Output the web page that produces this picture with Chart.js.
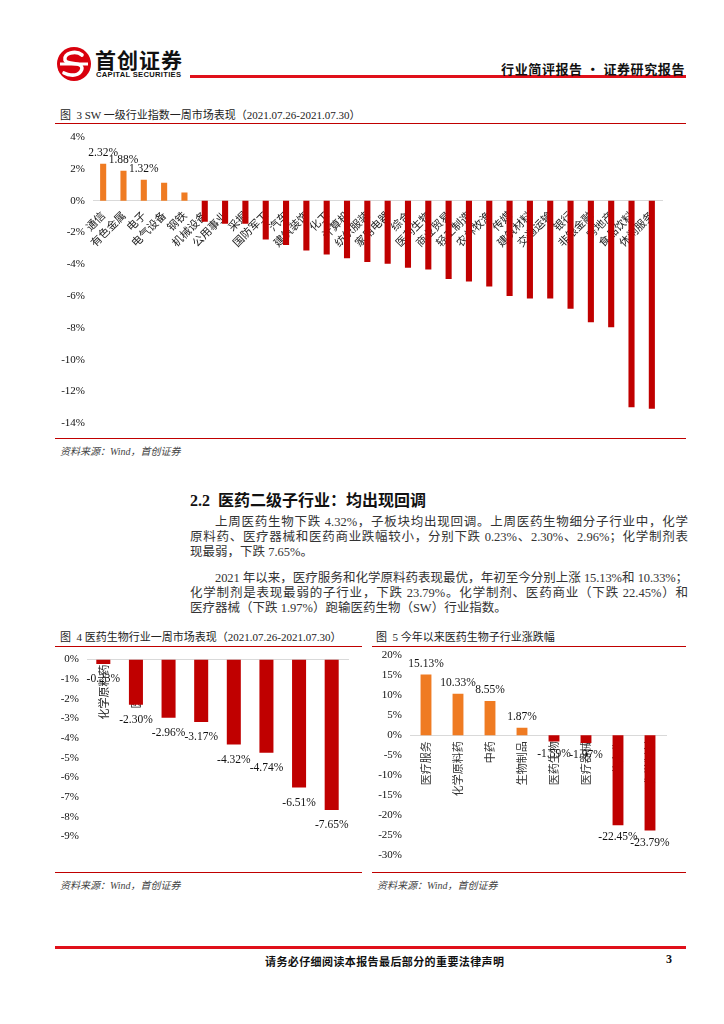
<!DOCTYPE html>
<html>
<head>
<meta charset="utf-8">
<script src="https://cdn.jsdelivr.net/npm/chart.js@4.4.1/dist/chart.umd.min.js"></script>
<style>
  html, body { margin: 0; padding: 0; background: #fff; }
  #page { position: relative; width: 724px; height: 1024px; overflow: hidden;
          font-family: "Liberation Serif", "Noto Sans CJK SC", serif; color: #222; }
  .abs { position: absolute; white-space: nowrap; }
  .rule { position: absolute; background: #c00000; height: 1px; }
  .figtitle { position: absolute; font-size: 11px; color: #222; white-space: nowrap; line-height: 14px; }
  .source { position: absolute; font-size: 10px; color: #444; font-style: italic; white-space: nowrap; }
  .line { position: absolute; font-size: 12.5px; color: #333; line-height: 16px; white-space: nowrap;
          text-align: justify; text-align-last: justify; }
  .line.last { text-align-last: left; }
  canvas { position: absolute; }
</style>
</head>
<body>
<div id="page">
  <!-- header -->
  <svg class="abs" style="left:56px;top:46px" width="36" height="36" viewBox="0 0 36 36">
    <circle cx="18" cy="18" r="17" fill="#d9000d"/>
    <path d="M26 9 C20 4 7 7 9 14 C10 18 20 17 24 19 C29 22 24 30 15 29 C12 29 10 28 8 27"
          fill="none" stroke="#fff" stroke-width="3.6" stroke-linecap="round"/>
    <rect x="4" y="16.5" width="28" height="3" fill="#fff"/>
  </svg>
  <div class="abs" style="left:95px;top:47px;font:700 21px 'Noto Sans CJK SC';letter-spacing:1px;color:#111;line-height:24px">首创证券</div>
  <div class="abs" style="left:96px;top:70px;font:700 7.6px 'Liberation Sans';color:#111;letter-spacing:0.3px">CAPITAL SECURITIES</div>
  <div class="rule" style="left:190px;top:75px;width:496px;height:2.5px;background:#e0101a"></div>
  <div class="abs" style="right:39px;top:59px;font:700 13px 'Noto Sans CJK SC';color:#111;letter-spacing:0.6px">行业简评报告 · 证券研究报告</div>

  <!-- figure 3 -->
  <div class="figtitle" style="left:60px;top:108px">图&nbsp; 3 SW 一级行业指数一周市场表现（2021.07.26-2021.07.30）</div>
  <div class="rule" style="left:55px;top:123px;width:631px"></div>
  <canvas id="swChart" width="631" height="318" style="left:55px;top:120px"></canvas>
  <div class="rule" style="left:55px;top:438px;width:631px"></div>
  <div class="source" style="left:60px;top:443px">资料来源：Wind，首创证券</div>

  <!-- section text -->
  <div class="abs" style="left:190px;top:487px;font:700 16px 'Liberation Serif','Noto Sans CJK SC';color:#111">2.2&nbsp; 医药二级子行业：均出现回调</div>
  <div class="line" style="left:215px;top:514px;width:473px">上周医药生物下跌 4.32%，子板块均出现回调。上周医药生物细分子行业中，化学</div>
  <div class="line" style="left:190px;top:529px;width:498px">原料药、医疗器械和医药商业跌幅较小，分别下跌 0.23%、2.30%、2.96%；化学制剂表</div>
  <div class="line last" style="left:190px;top:544px;width:498px">现最弱，下跌 7.65%。</div>
  <div class="line" style="left:215px;top:570px;width:473px">2021 年以来，医疗服务和化学原料药表现最优，年初至今分别上涨 15.13%和 10.33%；</div>
  <div class="line" style="left:190px;top:585px;width:498px">化学制剂是表现最弱的子行业，下跌 23.79%。化学制剂、医药商业（下跌 22.45%）和</div>
  <div class="line last" style="left:190px;top:600px;width:498px">医疗器械（下跌 1.97%）跑输医药生物（SW）行业指数。</div>

  <!-- figure 4 -->
  <div class="figtitle" style="left:60px;top:630px">图&nbsp; 4 医药生物行业一周市场表现（2021.07.26-2021.07.30）</div>
  <div class="rule" style="left:55px;top:646px;width:307px"></div>
  <canvas id="weekChart" width="307" height="225" style="left:55px;top:645px"></canvas>
  <div class="rule" style="left:55px;top:872px;width:307px"></div>
  <div class="source" style="left:60px;top:877px">资料来源：Wind，首创证券</div>

  <!-- figure 5 -->
  <div class="figtitle" style="left:376px;top:630px">图&nbsp; 5 今年以来医药生物子行业涨跌幅</div>
  <div class="rule" style="left:372px;top:646px;width:314px"></div>
  <canvas id="ytdChart" width="314" height="230" style="left:372px;top:640px"></canvas>
  <div class="rule" style="left:372px;top:872px;width:314px"></div>
  <div class="source" style="left:377px;top:877px">资料来源：Wind，首创证券</div>

  <!-- footer -->
  <div class="rule" style="left:55px;top:946px;width:631px;height:2.5px;background:#e0101a"></div>
  <div class="abs" style="left:265px;top:953px;font:700 11px 'Noto Sans CJK SC';color:#111;letter-spacing:0.4px">请务必仔细阅读本报告最后部分的重要法律声明</div>
  <div class="abs" style="left:666px;top:952px;font:700 12px 'Liberation Serif';color:#111">3</div>
</div>

<script>
// 图3 SW 一级行业指数一周表现 (%)
const swCategories = ['通信', '有色金属', '电子', '电气设备', '钢铁', '机械设备', '公用事业', '采掘', '国防军工', '汽车',
  '建筑装饰', '化工', '计算机', '纺织服装', '家用电器', '综合', '医药生物', '商业贸易', '轻工制造', '农林牧渔',
  '传媒', '建筑材料', '交通运输', '银行', '非银金融', '房地产', '食品饮料', '休闲服务'];
const swValues = [2.32, 1.88, 1.32, 1.12, 0.51, -1.32, -1.46, -1.46, -2.44, -2.78,
  -3.13, -3.39, -3.62, -3.86, -3.96, -4.22, -4.32, -4.92, -5.08, -5.39,
  -5.99, -6.15, -6.15, -6.80, -7.65, -7.96, -12.98, -13.08];
const swLabelled = 3;              // only the first bars carry a value label
const swAxis = [-14, 4, 2];        // min, max, step

// 图4 医药生物行业一周表现 (%)
const weekCategories = ['化学原料药', '医疗器械', '医药商业', '生物制品', '医药生物', '医疗服务', '中药', '化学制剂'];
const weekValues = [-0.23, -2.30, -2.96, -3.17, -4.32, -4.74, -6.51, -7.65];
const weekAxis = [-9, 0, 1];

// 图5 今年以来子行业涨跌幅 (%)
const ytdCategories = ['医疗服务', '化学原料药', '中药', '生物制品', '医药生物', '医疗器械', '医药商业', '化学制剂'];
const ytdValues = [15.13, 10.33, 8.55, 1.87, -1.59, -1.97, -22.45, -23.79];
const ytdAxis = [-30, 20, 5];

const ORANGE = '#ef7b22';
const RED = '#c00000';
const SERIF = '"Liberation Serif", "Noto Sans CJK SC", serif';

// value labels drawn at the end of each bar
const valueLabels = {
  id: 'valueLabels',
  afterDatasetsDraw(chart, args, opts) {
    const ctx = chart.ctx;
    const meta = chart.getDatasetMeta(0);
    const data = chart.data.datasets[0].data;
    ctx.save();
    ctx.font = `${opts.size || 11}px ${SERIF}`;
    ctx.fillStyle = opts.color || '#111';
    ctx.textAlign = 'center';
    ctx.textBaseline = 'middle';
    meta.data.forEach((bar, i) => {
      if (opts.limit != null && i >= opts.limit) return;
      const v = data[i];
      const y = v >= 0 ? bar.y - opts.up : bar.y + opts.down;
      ctx.fillText(v.toFixed(2) + '%', bar.x + (opts.dx || 0), y);
    });
    ctx.restore();
  }
};

function barChart(id, cats, vals, axis, cfg) {
  const [min, max, step] = axis;
  return new Chart(document.getElementById(id), {
    type: 'bar',
    data: {
      labels: cats,
      datasets: [{
        data: vals,
        backgroundColor: vals.map(v => (v >= 0 && cfg.twoTone) ? ORANGE : RED),
        borderWidth: 0,
        barPercentage: cfg.barPct,
        categoryPercentage: 1
      }]
    },
    options: {
      responsive: false, animation: false, devicePixelRatio: 1,
      layout: { padding: cfg.padding },
      scales: {
        x: {
          position: { y: 0 }, z: 1,
          grid: { display: false, drawTicks: false },
          border: { display: true, color: '#d9d9d9', width: 1 },
          ticks: {
            autoSkip: false, minRotation: cfg.rot, maxRotation: cfg.rot,
            padding: cfg.xPad, labelOffset: cfg.xShift || 0,
            color: cfg.xColor || '#222',
            font: { family: '"Noto Sans CJK SC"', size: cfg.xSize || 11 }
          }
        },
        y: {
          min, max,
          grid: { display: false, drawTicks: false },
          border: { display: false },
          afterFit: s => { s.width = cfg.yWidth; },
          ticks: {
            stepSize: step, padding: 8, color: '#111',
            font: { family: SERIF, size: 11 },
            callback: v => v + '%'
          }
        }
      },
      plugins: {
        legend: { display: false },
        tooltip: { enabled: false },
        valueLabels: cfg.labels
      }
    },
    plugins: [valueLabels]
  });
}

barChart('swChart', swCategories, swValues, swAxis, {
  twoTone: true, barPct: 0.3, rot: 45, xPad: 8, yWidth: 38,
  padding: { top: 17, bottom: 9, left: 0, right: 24 },
  labels: { limit: swLabelled, up: 11, down: 11, size: 11.5 }
});

barChart('weekChart', weekCategories, weekValues, weekAxis, {
  twoTone: false, barPct: 0.43, rot: 90, xPad: 5, yWidth: 32,
  padding: { top: 14.5, bottom: 33.5, left: 0, right: 14 },
  labels: { up: 15, down: 15, size: 11.5 }
});

barChart('ytdChart', ytdCategories, ytdValues, ytdAxis, {
  twoTone: true, barPct: 0.34, rot: 90, xPad: 6, yWidth: 38, xColor: '#333',
  padding: { top: 15, bottom: 10.7, left: 0, right: 20 },
  labels: { up: 11, down: 12, size: 11.5 }
});

// squeeze any body line that is wider than its box
document.querySelectorAll('.line').forEach(el => {
  let ls = 0;
  while (el.scrollWidth > el.clientWidth && ls > -2) {
    ls -= 0.1;
    el.style.letterSpacing = ls.toFixed(1) + 'px';
  }
});
</script>
</body>
</html>
